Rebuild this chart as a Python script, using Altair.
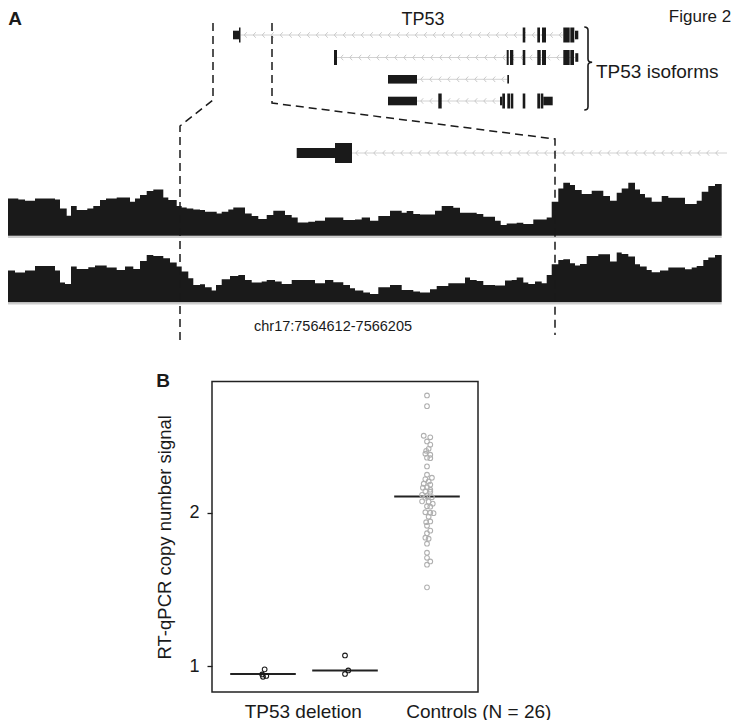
import altair as alt
import pandas as pd
import numpy as np

FONT = "Liberation Sans"
INK = "#1a1a1a"

# ---------------------------------------------------------------
# Panel A: TP53 locus schematic (figure units along the browser view)
# ---------------------------------------------------------------
# isoform exons: (start, end, kind)  kind: 'cds' = thick block, 'utr' = thin block
isoform_exons = [
    [(233, 239, "utr"), (239, 240.5, "cds"), (522.7, 525.3, "cds"), (537.3, 540, "cds"),
     (542, 546, "cds"), (563.3, 569.7, "cds"), (570.3, 574.3, "cds"), (575, 578.3, "utr")],
    [(334, 337, "cds"), (506.7, 508.7, "cds"), (510, 513.3, "cds"), (522.7, 525.3, "cds"),
     (537.3, 540.7, "cds"), (542, 546, "cds"), (563.3, 569.7, "cds"), (570.3, 574, "cds"),
     (575.3, 578.3, "utr")],
    [(388, 417, "utr"), (507.3, 509, "utr")],
    [(388, 417, "utr"), (438.3, 441.7, "cds"), (500, 502.3, "utr"), (502.3, 505, "cds"),
     (507.3, 510, "cds"), (510.7, 513.3, "cds"), (522.7, 525.3, "cds"), (537.3, 540, "cds"),
     (540.7, 543.3, "cds"), (543.3, 552.7, "utr")],
]
isoform_introns = [(240.5, 563.3), (337, 575.3), (417, 507.3), (417, 500)]

# zoomed gene model (3' end of TP53)
zoom_exons = [(296.7, 335, "utr"), (335, 352, "cds")]
zoom_intron = (352, 727)

# read coverage tracks: bin left edges and coverage height
track1_edges = [3.3, 18.3, 25, 35, 55, 60, 66.7, 71, 76.7, 87.3, 93.3, 100, 106, 116.7, 130, 135, 140,
                146.7, 153.3, 163.3, 168.3, 176.7, 181.7, 186.7, 193.3, 200, 205, 216.7, 221.7, 228.3,
                233.3, 245, 251.7, 258.3, 266.7, 273.3, 285, 291.7, 297.7, 308.3, 315, 325, 343.3, 355,
                361.7, 370, 378.3, 390, 401.7, 406.7, 413.3, 420, 435, 441.7, 453.3, 460, 476.7, 483.3,
                495, 500.7, 506.7, 516.7, 523.3, 533.3, 546.7, 551.7, 558.3, 563.3, 570, 575, 581.7,
                591.7, 603.3, 610, 616.7, 621.7, 628.3, 635, 640, 645, 651.7, 661.7, 668.3, 685, 696.7,
                701.7, 708.3, 715]
track1_cov = [37.3, 36.3, 35, 37.3, 36.3, 27.3, 20, 29.7, 25.7, 27.3, 29.7, 35.7, 37.3, 38.3, 34, 37.3,
              40.7, 44.7, 46.3, 38.3, 35.7, 29.7, 28.3, 27.3, 26.3, 25.7, 24, 22.3, 24, 26.3, 28.3, 22.3,
              19.7, 16.7, 20.7, 25, 20.7, 18.3, 13.3, 14, 15, 18.3, 15.7, 16.3, 18.3, 15, 19.7, 25, 23,
              24.7, 21.7, 21.3, 25, 29.7, 28, 23, 21.7, 19, 15, 10.7, 12.3, 13, 11.7, 16.3, 18.3, 34,
              47.3, 53, 50.7, 45.7, 41.7, 45, 39.7, 35, 43, 47.3, 53, 46.3, 41.7, 38.3, 34, 39.7, 38,
              31.7, 35, 44, 49.7, 51.7]
track2_edges = [3.3, 6.7, 15, 25, 35, 55, 60, 65, 71, 76.7, 88.3, 95, 106.7, 116.7, 125, 133.3, 140,
                146.7, 153.3, 163.3, 170, 176.7, 181.7, 188.3, 193.3, 200, 205, 211.7, 216, 221.7, 230,
                238.3, 245, 251.7, 261.7, 266.7, 275, 281.7, 291.7, 315, 325, 333.3, 343.3, 350, 355,
                363.3, 370, 378.3, 390, 401.7, 413.3, 420, 430, 436.7, 448.3, 465, 470, 476.7, 483.3,
                495, 505, 511.7, 516.7, 523.3, 528.3, 535, 541.7, 546.7, 551.7, 558.3, 563.3, 570, 575,
                580, 586.7, 598.3, 610, 616.7, 621.7, 628.3, 635, 640, 646.7, 651.7, 660, 668.3, 685,
                691.7, 696.7, 703.3, 708.3, 715]
track2_cov = [32.3, 31.7, 29.7, 31.7, 36.3, 31.7, 19.7, 18.3, 35.7, 33.3, 35, 36.7, 34.7, 32.3, 35.7,
              33.3, 41.3, 47.3, 46.3, 44, 39.7, 35.7, 30.7, 24, 17.3, 18, 15, 11.7, 17.3, 23, 26.3, 27.3,
              22.3, 19.7, 20.7, 22.3, 20.7, 18.3, 22.3, 19, 22.3, 20, 17.3, 14, 11.7, 9.7, 8.3, 15, 17.3,
              12.3, 10.7, 9.7, 13, 16.3, 19, 24.7, 22.3, 21.3, 17.3, 16.7, 21.7, 22.3, 24.7, 19.7, 18.3,
              20.7, 19, 27.3, 38, 42.3, 43, 39, 36.7, 38.3, 46.3, 48, 40.7, 49.7, 48.3, 45.7, 38, 35.7,
              32.3, 30, 31.7, 34.7, 33, 34.7, 36.3, 42.3, 44.7, 47.3]
track_end = 721.7

# zoom connector paths (dashed)
zoom_left = [(213, 23), (213, 100), (180, 126), (180, 343)]
zoom_right = [(272, 23), (272, 103), (555, 139), (555, 335)]

region_label = "chr17:7564612-7566205"

# ---------------------------------------------------------------
# Panel B: RT-qPCR copy number signal
# ---------------------------------------------------------------
category_labels = ["TP53 deletion", "Controls (N = 26)"]
del1_vals = [0.978, 0.945, 0.935, 0.930]
del1_jitter = [0.02, -0.01, 0.04, 0.0]
del2_vals = [1.069, 0.971, 0.948]
del2_jitter = [0.0, 0.04, 0.0]
ctrl_vals = [2.765, 2.695, 2.502, 2.492, 2.465, 2.444, 2.417, 2.404, 2.385, 2.378, 2.359, 2.356, 2.302,
             2.248, 2.228, 2.219, 2.204, 2.189, 2.183, 2.166, 2.163, 2.150, 2.140, 2.137, 2.117, 2.108,
             2.101, 2.098, 2.074, 2.072, 2.059, 2.042, 2.039, 2.003, 2.000, 1.997, 1.974, 1.943, 1.938,
             1.915, 1.883, 1.866, 1.837, 1.830, 1.798, 1.739, 1.706, 1.682, 1.661, 1.513]
ctrl_jitter = [0, 0, -0.04, 0.04, 0, 0.04, 0.02, -0.01, -0.02, 0.04, 0, 0.04, 0, 0, 0.06, -0.02, 0.02,
               -0.04, 0.04, 0, -0.05, 0.04, -0.02, 0.04, -0.06, 0, 0.06, -0.02, -0.06, 0.02, 0.07, 0,
               0.04, -0.02, 0.04, 0.08, 0.02, 0.04, -0.01, 0, 0.04, 0, -0.02, 0.02, 0, 0, 0, 0.04, 0, 0]
group_medians = [0.948, 0.971, 2.105]

# ---------------------------------------------------------------
# layout
# ---------------------------------------------------------------
W, H = 725, 712
X0, Y0 = 8, 8
B_XDOM = [0.378, 3.622]
B_YDOM = [0.8304, 2.8559]
B_XRANGE = [204, 470]
B_YRANGE = [684, 373.5]
LABEL_ANCHORS = [0.77, 2.74]   # left edges of the category labels on the x scale


def ax(field=None, **kw):
    sc = alt.Scale(domain=[X0, X0 + W], range=[0, W])
    if field is None:
        return alt.X(scale=sc, axis=None, type="quantitative", **kw)
    return alt.X(field, type="quantitative", scale=sc, axis=None)


def ay(field=None, **kw):
    sc = alt.Scale(domain=[Y0, Y0 + H], range=[0, H])
    if field is None:
        return alt.Y(scale=sc, axis=None, type="quantitative", **kw)
    return alt.Y(field, type="quantitative", scale=sc, axis=None)


def bx(field, axis=None):
    sc = alt.Scale(domain=B_XDOM, range=B_XRANGE)
    if axis is None:
        return alt.X(field, type="quantitative", scale=sc, axis=None)
    return alt.X(field, type="quantitative", scale=sc, axis=axis)


def by(field, axis=None):
    sc = alt.Scale(domain=B_YDOM, range=B_YRANGE)
    if axis is None:
        return alt.Y(field, type="quantitative", scale=sc, axis=None)
    return alt.Y(field, type="quantitative", scale=sc, axis=axis)


one = pd.DataFrame({"a": [0]})
layers = []

# ---------- Panel A ----------
ROW_Y = [35, 57.5, 79.3, 101]
HALF = {"cds": 7.5, "utr": 4.3}

exon_rows = []
for r, exons in enumerate(isoform_exons):
    for s, e, k in exons:
        exon_rows.append({"x": s, "x2": e, "y": ROW_Y[r] - HALF[k], "y2": ROW_Y[r] + HALF[k]})
for s, e, k in zoom_exons:
    h = {"cds": 10, "utr": 5}[k]
    exon_rows.append({"x": s, "x2": e, "y": 153 - h, "y2": 153 + h})
exon_df = pd.DataFrame(exon_rows)

intron_rows = [{"x": s, "x2": e, "y": ROW_Y[r]} for r, (s, e) in enumerate(isoform_introns)]
intron_rows.append({"x": zoom_intron[0], "x2": zoom_intron[1], "y": 153})
intron_df = pd.DataFrame(intron_rows)

chev = []
for row in intron_rows:
    for xx in np.arange(row["x"] + 5, row["x2"] - 2, 9):
        chev.append({"x": xx, "y": row["y"]})
chev_df = pd.DataFrame(chev)

layers.append(alt.Chart(intron_df).mark_rule(color="#d2d2d2", strokeWidth=1).encode(
    x=ax("x"), x2="x2", y=ay("y")))
layers.append(alt.Chart(chev_df).mark_point(
    shape="M 0.45 -1 L -0.45 0 L 0.45 1", filled=False, size=30, color="#c4c4c4",
    strokeWidth=0.9, opacity=1).encode(x=ax("x"), y=ay("y")))
layers.append(alt.Chart(exon_df).mark_rect(color=INK).encode(
    x=ax("x"), x2="x2", y=ay("y"), y2="y2"))

# coverage tracks
def track_df(edges, cov, base):
    rows = [{"x": e, "top": base - c, "base": base} for e, c in zip(edges, cov)]
    rows.append({"x": track_end, "top": base - cov[-1], "base": base})
    return pd.DataFrame(rows)

for edges, cov, base in [(track1_edges, track1_cov, 235.7), (track2_edges, track2_cov, 302.3)]:
    layers.append(alt.Chart(pd.DataFrame({"x": [edges[0]], "x2": [track_end], "y": [base + 1.3]}))
                  .mark_rule(color="#cdcdcd", strokeWidth=1.8, clip=True)
                  .encode(x=ax("x"), x2="x2", y=ay("y")))
    layers.append(alt.Chart(track_df(edges, cov, base)).mark_area(
        interpolate="step-after", color=INK, clip=True).encode(
        x=ax("x"), y=ay("top"), y2="base"))

# dashed zoom connectors
dash_rows = []
for name, pts in [("L", zoom_left), ("R", zoom_right)]:
    for i, (xx, yy) in enumerate(pts):
        dash_rows.append({"path": name, "i": i, "x": xx, "y": yy})
layers.append(alt.Chart(pd.DataFrame(dash_rows)).mark_line(
    color=INK, strokeWidth=1.5, strokeDash=[8, 5]).encode(
    x=ax("x"), y=ay("y"), detail="path:N", order="i:Q"))

# brace for isoforms
layers.append(alt.Chart(one).mark_point(
    shape="M -0.09 -1 Q 0 -1 0 -0.92 L 0 -0.23 Q 0 -0.15 0.1 -0.15 Q 0 -0.15 0 -0.07 L 0 0.92 Q 0 1 -0.09 1",
    filled=False, size=6900, color=INK, strokeWidth=1.6, opacity=1).encode(
    x=ax(datum=588), y=ay(datum=68.5)))

# texts in panel A
def text_layer(txt, x, y, size, align="center", weight="normal", font=FONT, baseline="middle"):
    return alt.Chart(one).mark_text(text=txt, fontSize=size, font=font, fontWeight=weight,
                                    align=align, baseline=baseline, color=INK).encode(
        x=ax(datum=x), y=ay(datum=y))

layers.append(text_layer("A", 15, 19, 19, weight="bold"))
layers.append(text_layer("Figure 2", 700, 17, 17))
layers.append(text_layer("TP53", 423, 20, 18))
layers.append(text_layer("TP53 isoforms", 596, 72, 19, align="left"))
layers.append(text_layer(region_label, 333, 327, 14.5))
layers.append(text_layer("B", 163, 381, 19, weight="bold"))

# ---------- Panel B ----------
box_df = pd.DataFrame({"x": [B_XDOM[0]], "x2": [B_XDOM[1]], "y": [B_YDOM[0]], "y2": [B_YDOM[1]]})
label_expr = f"datum.value < 2 ? '{category_labels[0]}' : '{category_labels[1]}'"
x_axis = alt.Axis(values=LABEL_ANCHORS, labelExpr=label_expr, orient="bottom", offset=-28,
                  ticks=False, tickSize=0, domain=False, grid=False, labelFontSize=19,
                  labelFont=FONT, labelColor=INK, labelPadding=10, title=None, labelFlush=False,
                  labelOverlap=False, labelAlign="left")
y_axis = alt.Axis(values=[1, 2], orient="left", offset=-204, domain=False, grid=False,
                  ticks=True, tickSize=5, tickColor=INK, tickWidth=1.3, labelFontSize=18,
                  labelFont=FONT, labelColor=INK, labelPadding=8, title="RT-qPCR copy number signal",
                  titleFontSize=18.5, titleFont=FONT, titleFontWeight="normal", titleColor=INK,
                  titlePadding=14)
layers.append(alt.Chart(box_df).mark_rect(fillOpacity=0, stroke="#222222", strokeWidth=1.5).encode(
    x=bx("x", x_axis), x2="x2", y=by("y", y_axis), y2="y2"))

pts = []
for pos, vals, jit, kind in [(1, del1_vals, del1_jitter, "deletion"),
                             (2, del2_vals, del2_jitter, "deletion"),
                             (3, ctrl_vals, ctrl_jitter, "control")]:
    for v, j in zip(vals, jit):
        pts.append({"x": pos + j, "v": v, "kind": kind})
pts_df = pd.DataFrame(pts)

med_df = pd.DataFrame({"x": [p - 0.4 for p in (1, 2, 3)], "x2": [p + 0.4 for p in (1, 2, 3)],
                       "v": group_medians})
layers.append(alt.Chart(med_df).mark_rule(color="#222222", strokeWidth=2).encode(
    x=bx("x"), x2="x2", y=by("v")))
layers.append(alt.Chart(pts_df).mark_point(shape="circle", filled=False, size=22, strokeWidth=1.1,
                                           opacity=1).encode(
    x=bx("x"), y=by("v"),
    color=alt.Color("kind:N", scale=alt.Scale(domain=["deletion", "control"],
                                              range=["#1a1a1a", "#b0b0b0"]), legend=None)))

chart = alt.layer(*layers).resolve_scale(x="independent", y="independent").properties(
    width=W, height=H, autosize="none", padding=0, background="white"
).configure_view(stroke=None)

chart.save("out.html", embed_options={"renderer": "svg", "actions": False})
